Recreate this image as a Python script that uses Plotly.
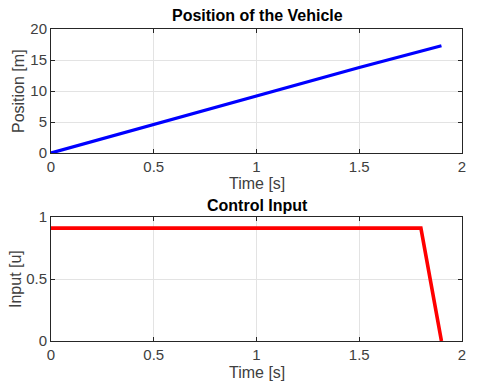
import plotly.graph_objects as go
from plotly.subplots import make_subplots

time_pos = [0, 0.5, 1.0, 1.5, 1.9]
position = [0, 4.6, 9.2, 13.8, 17.3]

time_u = [0, 1.8, 1.9]
control = [0.91, 0.91, 0]

x_ticks = [0, 0.5, 1, 1.5, 2]
x_tick_text = ["0", "0.5", "1", "1.5", "2"]
pos_ticks = [0, 5, 10, 15, 20]
u_ticks = [0, 0.5, 1]
u_tick_text = ["0", "0.5", "1"]

W, H = 503, 386
L, R, T, B = 51, 41, 29, 45
ph = H - T - B

fig = make_subplots(rows=2, cols=1)
fig.add_trace(go.Scatter(x=time_pos, y=position, mode="lines",
                         line=dict(color="#0000ff", width=3.2)), row=1, col=1)
fig.add_trace(go.Scatter(x=time_u, y=control, mode="lines",
                         line=dict(color="#ff0000", width=3.6)), row=2, col=1)

FONT = "Liberation Sans, Arial, sans-serif"
axis_common = dict(showline=True, linecolor="#262626", linewidth=1, mirror="ticks",
                   ticks="inside", ticklen=4, tickcolor="#262626",
                   showgrid=True, gridcolor="#e3e3e3", gridwidth=1,
                   zeroline=False, tickfont=dict(family=FONT, size=15, color="#404040"))

fig.update_xaxes(range=[0, 2], tickvals=x_ticks, ticktext=x_tick_text, **axis_common)
fig.update_yaxes(**axis_common)

fig.update_layout(
    xaxis=dict(domain=[0, 1], anchor="y"),
    yaxis=dict(domain=[(H - B - 153) / ph, 1], range=[0, 20], tickvals=pos_ticks, anchor="x"),
    xaxis2=dict(domain=[0, 1], anchor="y2"),
    yaxis2=dict(domain=[0, (H - B - 217) / ph], range=[0, 1], tickvals=u_ticks,
                ticktext=u_tick_text, anchor="x2"),
)

fig.update_layout(
    width=W, height=H,
    margin=dict(l=L, r=R, t=T, b=B, pad=0),
    paper_bgcolor="white", plot_bgcolor="white",
    showlegend=False,
    font=dict(family=FONT, size=15, color="#404040"),
)

def ann(text, x, y, size=14, bold=False, angle=0, color="#404040"):
    fig.add_annotation(text=f"<b>{text}</b>" if bold else text,
                       xref="paper", yref="paper", x=x, y=y,
                       showarrow=False, textangle=angle,
                       font=dict(family=FONT, size=size, color=color),
                       xanchor="center", yanchor="middle")

def px_x(px):
    return (px - L) / (W - L - R)

def px_y(py):
    return (H - B - py) / ph

ann("Position of the Vehicle", px_x(257), px_y(16), size=16, bold=True, color="#000000")
ann("Control Input", px_x(257), px_y(205), size=16, bold=True, color="#000000")
ann("Time [s]", px_x(257), px_y(183), size=16)
ann("Time [s]", px_x(257), px_y(372), size=16)
ann("Position [m]", px_x(19), px_y(91), size=16, angle=-90)
ann("Input [u]", px_x(15), px_y(279), size=16, angle=-90)

fig.write_html("out.html", config={"displayModeBar": False},
               post_script="document.body.style.margin='0';")
